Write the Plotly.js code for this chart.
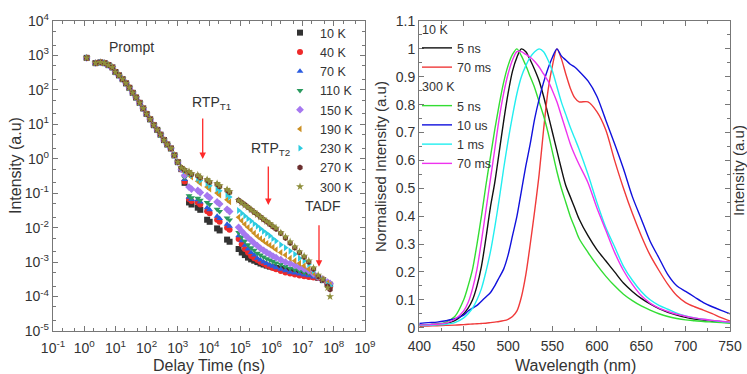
<!DOCTYPE html>
<html><head><meta charset="utf-8">
<script src="https://cdn.plot.ly/plotly-3.0.1.min.js"></script>
<style>html,body{margin:0;padding:0;background:#fff;}#chart{width:747px;height:374px;}</style>
</head><body><div id="chart"></div>
<script>
// ---------- Left panel: transient decay (delay time in ns) ----------
const promptTime = [1.2, 2.3, 3.3, 4.5, 6, 8, 10, 13, 17, 22, 28, 36, 46, 60, 78, 100, 130, 170, 220, 280, 360, 460, 600, 780, 1000];
const tailTime = [1300, 1650, 2290, 2750, 4370, 5250, 8710, 10500, 18200, 21900, 38000, 45700,
  89000, 112000, 141000, 178000, 224000, 282000, 355000, 447000, 562000, 708000, 891000, 1120000, 1410000,
  2000000, 2820000, 3980000, 5620000, 7940000, 11200000, 15800000, 22400000, 31600000, 44700000, 63100000, 75900000];
const promptIntensity = [850, 600, 630, 600, 525, 450, 330, 265, 205, 155, 115, 82, 60, 42, 29, 20, 14, 9.5, 6.9, 5.0, 3.5, 2.6, 2.0, 1.26, 0.8];

const tail10K  = [0.5, 0.2, 0.054, 0.047, 0.038, 0.033, 0.017, 0.0148, 0.0095, 0.0083, 0.0045, 0.0039, 0.0024, 0.0019, 0.0016, 0.00135, 0.0012, 0.0011, 0.001, 0.00091, 0.00085, 0.00079, 0.00074, 0.00071, 0.00068, 0.00063, 0.00059, 0.00055, 0.00051, 0.00048, 0.00045, 0.00041, 0.00038, 0.00035, 0.0003, 0.00024, 0.00022];
const tail40K  = [0.5, 0.22, 0.068, 0.059, 0.054, 0.047, 0.03, 0.0263, 0.017, 0.0148, 0.01, 0.0087, 0.0047, 0.0033, 0.0024, 0.0019, 0.0015, 0.0013, 0.00115, 0.001, 0.00091, 0.00081, 0.00074, 0.00068, 0.00062, 0.00055, 0.0005, 0.00047, 0.00044, 0.00041, 0.00039, 0.00037, 0.00036, 0.00035, 0.0003, 0.00024, 0.0002];
const tail70K  = [0.5, 0.25, 0.076, 0.066, 0.065, 0.056, 0.038, 0.033, 0.0214, 0.0186, 0.0126, 0.011, 0.0058, 0.0042, 0.0031, 0.0024, 0.0019, 0.0016, 0.0013, 0.00115, 0.001, 0.00091, 0.00083, 0.00076, 0.00069, 0.00062, 0.00056, 0.00051, 0.00048, 0.00045, 0.00042, 0.0004, 0.00037, 0.00035, 0.0003, 0.00025, 0.00022];
const tail110K = [0.5, 0.28, 0.085, 0.074, 0.072, 0.063, 0.054, 0.047, 0.034, 0.0295, 0.019, 0.0166, 0.0072, 0.0054, 0.0041, 0.0032, 0.0026, 0.0022, 0.0018, 0.0016, 0.0014, 0.00126, 0.00115, 0.00105, 0.00095, 0.00085, 0.00074, 0.00066, 0.0006, 0.00055, 0.0005, 0.00047, 0.00042, 0.00036, 0.00032, 0.00024, 0.00021];
const tail150K = [0.5, 0.33, 0.151, 0.132, 0.12, 0.105, 0.085, 0.074, 0.056, 0.049, 0.034, 0.0295, 0.0102, 0.0079, 0.0063, 0.0051, 0.0043, 0.0035, 0.003, 0.0025, 0.0022, 0.0019, 0.0017, 0.0015, 0.00135, 0.00117, 0.001, 0.00091, 0.00081, 0.00071, 0.00063, 0.00056, 0.00046, 0.00037, 0.00032, 0.00026, 0.00024];
const tail190K = [0.53, 0.43, 0.339, 0.295, 0.224, 0.195, 0.151, 0.132, 0.102, 0.089, 0.065, 0.056, 0.02, 0.0158, 0.0126, 0.0102, 0.0085, 0.0069, 0.0056, 0.0048, 0.0041, 0.0035, 0.0031, 0.0027, 0.0023, 0.0019, 0.0016, 0.0013, 0.0011, 0.00093, 0.00078, 0.00063, 0.00048, 0.00037, 0.00032, 0.00025, 0.00022];
const tail230K = [0.54, 0.45, 0.38, 0.331, 0.269, 0.234, 0.191, 0.166, 0.135, 0.117, 0.089, 0.078, 0.0316, 0.0263, 0.0219, 0.0182, 0.0155, 0.0129, 0.011, 0.0093, 0.0079, 0.0068, 0.0058, 0.0048, 0.0041, 0.0032, 0.0026, 0.0021, 0.0017, 0.0013, 0.0011, 0.00087, 0.00056, 0.00038, 0.0003, 0.00022, 0.0002];
const tail270K = [0.55, 0.47, 0.407, 0.355, 0.324, 0.282, 0.24, 0.209, 0.182, 0.158, 0.123, 0.107, 0.063, 0.054, 0.046, 0.039, 0.033, 0.028, 0.024, 0.0204, 0.0174, 0.0148, 0.0126, 0.0107, 0.0091, 0.0069, 0.005, 0.0036, 0.0026, 0.0019, 0.0014, 0.001, 0.00063, 0.00038, 0.0003, 0.0002, 0.00016];
const tail300K = [0.55, 0.48, 0.427, 0.372, 0.339, 0.295, 0.251, 0.219, 0.191, 0.166, 0.129, 0.112, 0.0617, 0.0525, 0.0447, 0.0389, 0.0331, 0.0282, 0.024, 0.0204, 0.0178, 0.0151, 0.0132, 0.0112, 0.0098, 0.0072, 0.0054, 0.0039, 0.0028, 0.002, 0.0015, 0.0011, 0.00068, 0.00042, 0.00032, 0.00018, 0.0001];

const tempLabels = ['10 K', '40 K', '70 K', '110 K', '150 K', '190 K', '230 K', '270 K', '300 K'];
const tempTails = [tail10K, tail40K, tail70K, tail110K, tail150K, tail190K, tail230K, tail270K, tail300K];
const tempColors = ['#333333', '#ee2a2a', '#2a5be0', '#2a9a5e', '#a678f0', '#cc8f22', '#2ccbe0', '#6b2e2e', '#8f8f3c'];
const tempSymbols = ['square', 'circle', 'triangle-up', 'triangle-down', 'diamond', 'triangle-left', 'triangle-right', 'hexagon', 'star'];

// tick labels of the log axes
const timeTickVals = [0.1, 1, 10, 100, 1e3, 1e4, 1e5, 1e6, 1e7, 1e8, 1e9];
const timeTickText = ['10<sup>-1</sup>', '10<sup>0</sup>', '10<sup>1</sup>', '10<sup>2</sup>', '10<sup>3</sup>', '10<sup>4</sup>', '10<sup>5</sup>', '10<sup>6</sup>', '10<sup>7</sup>', '10<sup>8</sup>', '10<sup>9</sup>'];
const intTickVals = [1e-5, 1e-4, 1e-3, 1e-2, 0.1, 1, 10, 100, 1e3, 1e4];
const intTickText = ['10<sup>-5</sup>', '10<sup>-4</sup>', '10<sup>-3</sup>', '10<sup>-2</sup>', '10<sup>-1</sup>', '10<sup>0</sup>', '10<sup>1</sup>', '10<sup>2</sup>', '10<sup>3</sup>', '10<sup>4</sup>'];

// ---------- Right panel: normalised spectra ----------
const wavelength = [400, 410, 420, 430, 440, 450, 455, 460, 465, 470, 475, 480, 485, 490, 495, 500, 505, 510, 515, 520, 525, 530, 535, 540, 545, 550, 555, 560, 565, 570, 575, 580, 590, 600, 610, 620, 630, 640, 650, 660, 670, 680, 690, 700, 710, 720, 730, 740, 750];
const k10_5ns   = [0.01, 0.01, 0.012, 0.015, 0.025, 0.05, 0.07, 0.1, 0.15, 0.22, 0.32, 0.43, 0.52, 0.63, 0.74, 0.84, 0.92, 0.97, 1.0, 0.99, 0.96, 0.925, 0.885, 0.83, 0.765, 0.7, 0.635, 0.57, 0.51, 0.47, 0.43, 0.39, 0.33, 0.28, 0.24, 0.2, 0.16, 0.13, 0.105, 0.085, 0.068, 0.055, 0.045, 0.037, 0.031, 0.027, 0.024, 0.021, 0.019];
const k10_70ms  = [0.005, 0.006, 0.007, 0.008, 0.009, 0.011, 0.012, 0.013, 0.014, 0.015, 0.016, 0.018, 0.02, 0.022, 0.025, 0.03, 0.04, 0.06, 0.11, 0.19, 0.3, 0.42, 0.55, 0.71, 0.85, 0.94, 1.0, 0.965, 0.91, 0.86, 0.825, 0.81, 0.81, 0.775, 0.71, 0.6, 0.5, 0.41, 0.33, 0.26, 0.205, 0.155, 0.115, 0.09, 0.075, 0.063, 0.05, 0.036, 0.024];
const k300_5ns  = [0.01, 0.01, 0.012, 0.02, 0.04, 0.1, 0.15, 0.21, 0.3, 0.4, 0.51, 0.61, 0.71, 0.8, 0.88, 0.94, 0.98, 1.0, 0.975, 0.94, 0.9, 0.86, 0.81, 0.76, 0.7, 0.63, 0.56, 0.5, 0.45, 0.4, 0.36, 0.32, 0.27, 0.225, 0.185, 0.15, 0.12, 0.097, 0.078, 0.063, 0.05, 0.04, 0.033, 0.028, 0.025, 0.022, 0.02, 0.018, 0.016];
const k300_10us = [0.015, 0.018, 0.02, 0.025, 0.032, 0.045, 0.06, 0.07, 0.08, 0.095, 0.11, 0.125, 0.15, 0.18, 0.21, 0.26, 0.33, 0.4, 0.49, 0.58, 0.66, 0.75, 0.82, 0.88, 0.93, 0.97, 1.0, 0.975, 0.96, 0.945, 0.935, 0.92, 0.885, 0.83, 0.745, 0.66, 0.57, 0.47, 0.39, 0.31, 0.25, 0.19, 0.15, 0.13, 0.11, 0.09, 0.075, 0.062, 0.05];
const k300_1ms  = [0.008, 0.008, 0.01, 0.012, 0.018, 0.035, 0.05, 0.07, 0.1, 0.14, 0.2, 0.27, 0.36, 0.46, 0.57, 0.67, 0.76, 0.84, 0.9, 0.94, 0.97, 0.99, 1.0, 0.99, 0.96, 0.92, 0.865, 0.81, 0.765, 0.72, 0.68, 0.64, 0.55, 0.45, 0.36, 0.29, 0.22, 0.17, 0.13, 0.1, 0.08, 0.066, 0.052, 0.042, 0.035, 0.03, 0.026, 0.022, 0.019];
const k300_70ms = [0.01, 0.01, 0.012, 0.016, 0.03, 0.06, 0.09, 0.14, 0.21, 0.31, 0.42, 0.53, 0.64, 0.75, 0.84, 0.91, 0.96, 0.99, 0.99, 0.98, 0.97, 0.955, 0.935, 0.91, 0.885, 0.85, 0.81, 0.76, 0.71, 0.66, 0.62, 0.585, 0.52, 0.43, 0.35, 0.27, 0.205, 0.155, 0.115, 0.088, 0.07, 0.058, 0.048, 0.041, 0.035, 0.03, 0.026, 0.023, 0.02];

const spectra = [
  {name: '5 ns',  y: k10_5ns,   color: '#111111', group: 'g10',  title: '10 K'},
  {name: '70 ms', y: k10_70ms,  color: '#f03a3a', group: 'g10',  title: '10 K'},
  {name: '5 ns',  y: k300_5ns,  color: '#33dd33', group: 'g300', title: '300 K'},
  {name: '10 us', y: k300_10us, color: '#1111dd', group: 'g300', title: '300 K'},
  {name: '1 ms',  y: k300_1ms,  color: '#22eef0', group: 'g300', title: '300 K'},
  {name: '70 ms', y: k300_70ms, color: '#ee33ee', group: 'g300', title: '300 K'}
];

const FONT = '"Liberation Sans", Arial, sans-serif';
const LEGFONT = 12.5;
const traces = [];
const delayTime = promptTime.concat(tailTime);
tempLabels.forEach((lab, i) => {
  traces.push({
    type: 'scatter', mode: 'markers', name: lab,
    x: delayTime, y: promptIntensity.concat(tempTails[i]),
    xaxis: 'x', yaxis: 'y', legend: 'legend',
    marker: {color: tempColors[i], symbol: tempSymbols[i], size: 6, line: {width: 0}}
  });
});
spectra.forEach(s => {
  traces.push({
    type: 'scatter', mode: 'lines', name: s.name, x: wavelength, y: s.y,
    xaxis: 'x2', yaxis: 'y2', legend: 'legend2',
    legendgroup: s.group, legendgrouptitle: {text: s.title, font: {size: LEGFONT, color: '#333'}},
    line: {color: s.color, width: 1.4, shape: 'spline', smoothing: 0.8}
  });
});

const W = 747, H = 374;
const px = v => v / W, py = v => 1 - v / H;
const axisCommon = {
  showline: true, linecolor: '#777', linewidth: 1.2, mirror: 'allticks',
  ticks: 'inside', ticklen: 5, tickcolor: '#777', tickwidth: 1,
  showgrid: false, zeroline: false, tickfont: {size: 14, color: '#333', family: FONT}
};
const yDom = [py(331), py(21)];
function label(text, x, y, size, angle) {
  const a = {text: text, xref: 'paper', yref: 'paper', x: px(x), y: py(y), xanchor: 'center', yanchor: 'middle',
    showarrow: false, font: {size: size, color: '#333'}};
  if (angle) a.textangle = angle;
  return a;
}
function arrow(x, yHead, len) {
  return {text: '', xref: 'paper', yref: 'paper', x: px(x), y: py(yHead), ax: 0, ay: -len,
    showarrow: true, arrowhead: 2, arrowsize: 1, arrowwidth: 1.3, arrowcolor: '#ff2a2a'};
}
const logMinor = {ticks: 'inside', ticklen: 3, tickcolor: '#777'};
const layout = {
  width: W, height: H, margin: {l: 0, r: 0, t: 0, b: 0},
  paper_bgcolor: '#fff', plot_bgcolor: '#fff',
  font: {family: FONT, size: 14, color: '#333'},
  showlegend: true,
  xaxis: Object.assign({}, axisCommon, {type: 'log', domain: [px(53), px(365)], range: [-1, 9],
    tickmode: 'array', tickvals: timeTickVals, ticktext: timeTickText, anchor: 'y', minor: logMinor,
    ticklabelstandoff: 4}),
  yaxis: Object.assign({}, axisCommon, {type: 'log', domain: yDom, range: [-5, 4],
    tickmode: 'array', tickvals: intTickVals, ticktext: intTickText, anchor: 'x', minor: logMinor}),
  xaxis2: Object.assign({}, axisCommon, {domain: [px(419.3), px(730)], range: [400, 750], dtick: 50,
    anchor: 'y2', minor: {ticks: 'inside', ticklen: 3, dtick: 25, tickcolor: '#777'}, ticklabelstandoff: 2}),
  yaxis2: Object.assign({}, axisCommon, {domain: yDom, range: [-0.012, 1.1], dtick: 0.1,
    anchor: 'x2', minor: {ticks: 'inside', ticklen: 3, dtick: 0.05, tickcolor: '#777'}}),
  legend: {x: px(280), y: py(18), xanchor: 'left', yanchor: 'top', bgcolor: 'rgba(0,0,0,0)',
    font: {size: LEGFONT, color: '#333'}, tracegroupgap: 0},
  legend2: {x: px(417), y: py(14), xanchor: 'left', yanchor: 'top', bgcolor: 'rgba(0,0,0,0)',
    font: {size: LEGFONT, color: '#333'}, traceorder: 'grouped', tracegroupgap: 0},
  annotations: [
    label('Prompt', 131, 47, 14),
    label('RTP<sub>T1</sub>', 211, 103, 14),
    label('RTP<sub>T2</sub>', 270, 149, 14),
    label('TADF', 323, 206, 14),
    arrow(202.7, 159, 42),
    arrow(268.3, 205, 40),
    arrow(319, 266.7, 43),
    label('Intensity (a.u)', 15, 166, 16, -90),
    label('Delay Time (ns)', 209, 365, 16),
    label('Normalised Intensity (a.u)', 380, 167, 15, -90),
    label('Wavelength (nm)', 575, 365, 16),
    label('Intensity (a.u)', 738, 171, 15, -90)
  ]
};
Plotly.newPlot('chart', traces, layout, {displayModeBar: false, staticPlot: true});
</script></body></html>
